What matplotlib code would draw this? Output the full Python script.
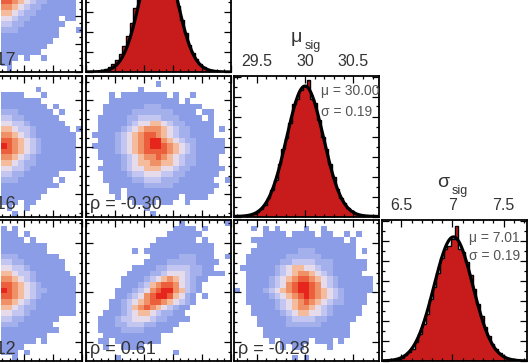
import numpy as np
import matplotlib
matplotlib.use('Agg')
import matplotlib.pyplot as plt
from matplotlib.colors import ListedColormap, BoundaryNorm
from matplotlib.ticker import MultipleLocator

plt.rcParams['font.family'] = ['Liberation Sans', 'DejaVu Sans']

# ---------------- data ----------------
mu_sig_mean, mu_sig_sd = 30.00, 0.19
sg_sig_mean, sg_sig_sd = 7.01, 0.19
p1_mean, p1_sd = 12.5, 3.0           # hidden parameter (axis in bin units)

mu_lim = (29.265, 30.765)
sg_lim = (6.31, 7.73)
p_lim = (0.0, 25.0)

mu_ticks = [29.5, 30, 30.5]
mu_ticklabels = ['29.5', '30', '30.5']
sg_ticks = [6.5, 7, 7.5]
sg_ticklabels = ['6.5', '7', '7.5']

rho_labels = {'r0c0': 'ρ = -0.17', 'r1c0': 'ρ = -0.16', 'r2c0': 'ρ = -0.12',
              'r1c1': 'ρ = -0.30', 'r2c1': 'ρ = 0.61', 'r2c2': 'ρ = -0.28'}

# 1D histogram heights (relative to fitted peak), 40 bins across the axis range
hist_mu = [0.001, 0.002, 0.004, 0.007, 0.012, 0.022, 0.036, 0.058, 0.092, 0.14,
           0.2, 0.28, 0.4, 0.52, 0.6, 0.72, 0.86, 0.9, 0.97, 1.0,
           1.045, 0.9, 0.87, 0.74, 0.61, 0.52, 0.4, 0.3, 0.21, 0.14,
           0.1, 0.063, 0.039, 0.023, 0.014, 0.007, 0.004, 0.002, 0.001, 0.0004]
hist_sg = [0.0016, 0.003, 0.005, 0.009, 0.016, 0.027, 0.045, 0.07, 0.1, 0.15,
           0.22, 0.3, 0.38, 0.5, 0.6, 0.71, 0.83, 0.9, 0.93, 0.98,
           1.09, 0.9, 0.88, 0.8, 0.69, 0.58, 0.46, 0.36, 0.27, 0.2,
           0.14, 0.094, 0.062, 0.039, 0.024, 0.014, 0.008, 0.004, 0.002, 0.001]
hist_p1 = [0.001, 0.002, 0.004, 0.007, 0.012, 0.022, 0.036, 0.058, 0.09, 0.14,
           0.2, 0.28, 0.38, 0.49, 0.6, 0.72, 0.83, 0.92, 0.98, 1.0,
           0.98, 0.93, 0.85, 0.74, 0.63, 0.51, 0.4, 0.3, 0.21, 0.15,
           0.1, 0.063, 0.04, 0.023, 0.014, 0.007, 0.004, 0.002, 0.001, 0.0004]

# 2D histograms: colour level per bin (0 = empty), rows top -> bottom
grid_r1c1 = [
    ".........................",
    "............1............",
    ".........1...............",
    "....1.11111111.1..1......",
    "....111111111111.1.......",
    "...11111112221111111.....",
    "...1111122222221111.11...",
    "..111112233332221111.1...",
    "..11111234455432211111...",
    "..11112345666543221111.1.",
    ".111123456776543221111...",
    "..1112345678865432211111.",
    ".11112345678876543211111.",
    "..1112345677776543211111.",
    "..111123456676543221111..",
    "...11123455665543221111..",
    "..1111234455544322111111.",
    "...11112334443322111111..",
    "...1111122333222111111..1",
    "....1111112222211111111..",
    "....11.111111111111111...",
    ".....1.111111111.1111....",
    "........1111.11..1.......",
    "..........1..............",
    "...........1.............",
]
grid_r2c1 = [
    "................1.......1",
    "...............1111.1....",
    "..............111111.....",
    "............1111111.1....",
    "...........11111111111...",
    "........1.111111111111...",
    "...........11111222111..1",
    "..........1111222221111..",
    "........11112233332211...",
    ".......11112234443221111.",
    "......111123456543211....",
    "......11123567764321.....",
    ".....111234678865321.....",
    ".....11234678875421.1....",
    "....112345677654321......",
    "....11235676543211.......",
    "...11123455432211........",
    "..1112334443221111.......",
    "..11122333221111.........",
    "..1111222211111..........",
    "...1111111111............",
    "..11.11111111............",
    "...1..1111...............",
    "...............1.........",
    ".....1...................",
]
grid_r2c2 = [
    ".........................",
    "...1.1.1....1..1.........",
    ".....1111.1111.11..1.1...",
    "...1111111111111111.1....",
    "....11111111111111111....",
    "...111111112221111111.1..",
    "..1111111222222111111....",
    "..111111223333222111111..",
    ".1111112345544322111111..",
    "..11111234566543211111...",
    "..1111234567765432111111.",
    "..1111234678876432111111.",
    "1.1112345678876543211111.",
    "..111123456787654321111..",
    "..111112345676543221111..",
    "...1111234566543211111...",
    "...1111123455443211111...",
    "....11111233332211111....",
    "....1111122222211111.....",
    ".....111111111111111.....",
    ".....111111111111111.....",
    "......1.11111.111.1......",
    "........1.11....1........",
    ".........................",
    "..........1.1............",
]
# partial panels of the first (cropped) column: bins 11..24 only
grid_r0c0 = [  # rows 12..24
    "7765432211111.",
    "6654322111111.",
    "5543221111111.",
    "4432211111.11.",
    "33221111111...",
    "2221111111...1",
    "1111111111....",
    "111111111.....",
    "11111111......",
    "1111111.......",
    "111.1..1......",
    "11............",
    ".1............",
]
grid_r1c0 = [
    "..............",
    "..............",
    "......1.......",
    "1111...1......",
    "1111111.......",
    "11111111.1....",
    "222111111.1...",
    "3322111111....",
    "44332111111...",
    "554332111111.1",
    "6654321111111.",
    "7765432111111.",
    "8765432111111.",
    "7765432111111.",
    "6654321111111.",
    "5543221111111.",
    "4433211111111.",
    "3322111111....",
    "222111111.1...",
    "1111111111....",
    "11111111......",
    "1111111.......",
    "111.11........",
    ".1..1.........",
    "..1...........",
]
grid_r2c0 = [
    "..............",
    "1.1...........",
    "111.1.........",
    "1111.1........",
    "11111111......",
    "11111111......",
    "2221111111....",
    "33221111111...",
    "44332111111...",
    "554332111111..",
    "6654321111111.",
    "7765432111111.",
    "8765432211111.",
    "7765432111111.",
    "6654321111111.",
    "5543221111111.",
    "4433211111111.",
    "3322111111....",
    "222111111.....",
    "1111111111....",
    "11111111......",
    "111111.1......",
    "1111..........",
    "111.1.........",
    "..1...........",
]

level_colors = ['#8b9de6', '#a3b0ec', '#c3c6f1', '#e6dbeb',
                '#f4bb9c', '#f09066', '#eb5f3c', '#e6261c']

# ---------------- figure ----------------
W, H = 532, 363
fig = plt.figure(figsize=(W / 100, H / 100), dpi=100)


def add_ax(l, t, r, b):
    return fig.add_axes([l / W, 1 - b / H, (r - l) / W, (b - t) / H])


cols = [(-63, 82), (86, 231), (234, 379), (382, 527)]
rows = [(-69, 72), (75.5, 216.5), (220, 361)]

cmap = ListedColormap(level_colors)
norm = BoundaryNorm(np.arange(0.5, 9.5, 1.0), cmap.N)
txt_col = '#333333'


def style(ax, xmaj, xmin, ymaj, ymin):
    ax.xaxis.set_major_locator(MultipleLocator(xmaj))
    ax.xaxis.set_minor_locator(MultipleLocator(xmin))
    ax.yaxis.set_major_locator(MultipleLocator(ymaj))
    ax.yaxis.set_minor_locator(MultipleLocator(ymin))
    ax.tick_params(which='both', direction='in', top=True, right=True,
                   bottom=True, left=True, labelbottom=False, labelleft=False,
                   color='black', width=0.9)
    ax.tick_params(which='major', length=5)
    ax.tick_params(which='minor', length=2.5)
    for s in ax.spines.values():
        s.set_linewidth(1.3)


def draw2d(ax, grid, xlim, ylim, col0=0, row0=0, nb=25):
    arr = np.array([[0 if c == '.' else int(c) for c in r] for r in grid], float)
    nr, nc = arr.shape
    xe = np.linspace(xlim[0], xlim[1], nb + 1)
    ye = np.linspace(ylim[1], ylim[0], nb + 1)  # top -> bottom
    xs = xe[col0:col0 + nc + 1]
    ys = ye[row0:row0 + nr + 1]
    data = np.ma.masked_equal(arr, 0)
    ax.pcolormesh(xs, ys, data, cmap=cmap, norm=norm, shading='flat')
    ax.set_xlim(xlim)
    ax.set_ylim(ylim)


def rho(ax, key, dx=0.0):
    ax.text(0.03 + dx, 0.05, rho_labels[key], transform=ax.transAxes, fontsize=13,
            color=txt_col, ha='left', va='baseline')


def draw1d(ax, heights, lim, mean, sd, scale, top):
    edges = np.linspace(lim[0], lim[1], len(heights) + 1)
    h = np.array(heights) * scale
    ax.stairs(h, edges, fill=True, color='#c81c1c', lw=0)
    ax.stairs(h, edges, color='black', lw=1.0)
    xx = np.linspace(lim[0], lim[1], 400)
    ax.plot(xx, scale * np.exp(-0.5 * ((xx - mean) / sd) ** 2), color='black', lw=2.3)
    ax.set_xlim(lim)
    ax.set_ylim(0, top)


def ystep(top):
    return top * 20.0 / 141.0


c0dx = 3.0 / 145

# row 0
ax = add_ax(cols[0][0], rows[0][0], cols[0][1], rows[0][1])
draw2d(ax, grid_r0c0, p_lim, p_lim, col0=11, row0=12)
style(ax, 5, 1.25, 5, 1.25)
rho(ax, 'r0c0', c0dx)

ax = add_ax(cols[1][0], rows[0][0], cols[1][1], rows[0][1])
top = 100 / 0.92
draw1d(ax, hist_p1, p_lim, p1_mean, p1_sd, 100, top)
style(ax, 5, 1.25, ystep(top), ystep(top) / 2)

# row 1
ax = add_ax(cols[0][0], rows[1][0], cols[0][1], rows[1][1])
draw2d(ax, grid_r1c0, p_lim, mu_lim, col0=11)
style(ax, 5, 1.25, 0.5, 0.1)
rho(ax, 'r1c0', c0dx)

ax = add_ax(cols[1][0], rows[1][0], cols[1][1], rows[1][1])
draw2d(ax, grid_r1c1, p_lim, mu_lim)
style(ax, 5, 1.25, 0.5, 0.1)
rho(ax, 'r1c1')

ax = add_ax(cols[2][0], rows[1][0], cols[2][1], rows[1][1])
top = 100 / 0.925
draw1d(ax, hist_mu, mu_lim, mu_sig_mean, mu_sig_sd, 100, top)
style(ax, 0.5, 0.1, ystep(top), ystep(top) / 2)
ax.set_xticks(mu_ticks)
ax.set_xticklabels(mu_ticklabels)
ax.tick_params(labeltop=True, labelsize=11.5, labelcolor=txt_col, pad=5)
ax.text(0.6, 1 - 15 / 141, 'μ = %.2f' % mu_sig_mean, transform=ax.transAxes,
        fontsize=10, color='#555555', va='center', ha='left')
ax.text(0.6, 1 - 36.5 / 141, 'σ = %.2f' % mu_sig_sd, transform=ax.transAxes,
        fontsize=10, color='#555555', va='center', ha='left')
ax.text(0.43, 1 + 33 / 141, 'μ', transform=ax.transAxes, fontsize=14,
        color=txt_col, ha='center', va='baseline')
ax.text(0.49, 1 + 26 / 141, 'sig', transform=ax.transAxes, fontsize=9,
        color=txt_col, ha='left', va='baseline')

# row 2
ax = add_ax(cols[0][0], rows[2][0], cols[0][1], rows[2][1])
draw2d(ax, grid_r2c0, p_lim, sg_lim, col0=11)
style(ax, 5, 1.25, 0.5, 0.1)
rho(ax, 'r2c0', c0dx)

ax = add_ax(cols[1][0], rows[2][0], cols[1][1], rows[2][1])
draw2d(ax, grid_r2c1, p_lim, sg_lim)
style(ax, 5, 1.25, 0.5, 0.1)
rho(ax, 'r2c1')

ax = add_ax(cols[2][0], rows[2][0], cols[2][1], rows[2][1])
draw2d(ax, grid_r2c2, mu_lim, sg_lim)
style(ax, 0.5, 0.1, 0.5, 0.1)
rho(ax, 'r2c2')

ax = add_ax(cols[3][0], rows[2][0], cols[3][1], rows[2][1])
top = 100 / 0.88
draw1d(ax, hist_sg, sg_lim, sg_sig_mean, sg_sig_sd, 100, top)
style(ax, 0.5, 0.1, ystep(top), ystep(top) / 2)
ax.set_xticks(sg_ticks)
ax.set_xticklabels(sg_ticklabels)
ax.tick_params(labeltop=True, labelsize=11.5, labelcolor=txt_col, pad=5)
ax.text(0.6, 1 - 18 / 141, 'μ = %.2f' % sg_sig_mean, transform=ax.transAxes,
        fontsize=10, color='#555555', va='center', ha='left')
ax.text(0.6, 1 - 36.5 / 141, 'σ = %.2f' % sg_sig_sd, transform=ax.transAxes,
        fontsize=10, color='#555555', va='center', ha='left')
ax.text(0.42, 1 + 33 / 141, 'σ', transform=ax.transAxes, fontsize=14,
        color=txt_col, ha='center', va='baseline')
ax.text(0.48, 1 + 26 / 141, 'sig', transform=ax.transAxes, fontsize=9,
        color=txt_col, ha='left', va='baseline')

fig.savefig('out.png', dpi=100)
